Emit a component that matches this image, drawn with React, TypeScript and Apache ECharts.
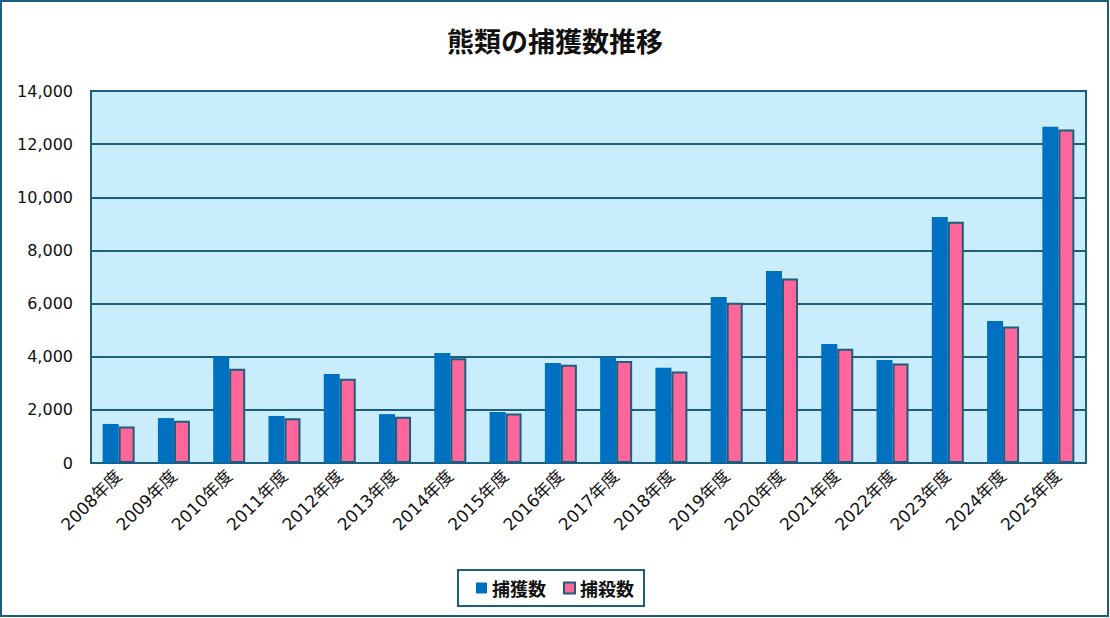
import React, { useEffect, useRef } from "react";
import * as echarts from "echarts";

const categories = ["2008年度","2009年度","2010年度","2011年度","2012年度","2013年度","2014年度","2015年度","2016年度","2017年度","2018年度","2019年度","2020年度","2021年度","2022年度","2023年度","2024年度","2025年度"];
const captured = [1470, 1690, 4000, 1770, 3350, 1840, 4140, 1920, 3760, 3980, 3580, 6250, 7230, 4480, 3880, 9260, 5340, 12650];
const killed = [1370, 1590, 3550, 1680, 3170, 1740, 3940, 1860, 3700, 3840, 3440, 6030, 6940, 4300, 3740, 9080, 5140, 12550];
const seriesNames = ["捕獲数", "捕殺数"];
const title = "熊類の捕獲数推移";

const FONT = "'DejaVu Sans', 'Noto Sans CJK JP', sans-serif";
const CJK = "'Noto Sans CJK JP', sans-serif";
const DARK = "#1B5E7E";

export default function App() {
  const ref = useRef<HTMLDivElement>(null);
  useEffect(() => {
    document.body.style.margin = "0";
    const chart = echarts.init(ref.current!, null, { renderer: "svg" });
    chart.setOption({
      animation: false,
      backgroundColor: "#ffffff",
      textStyle: { fontFamily: FONT },
      title: {
        text: title,
        left: "center",
        top: 22,
        textStyle: { fontFamily: CJK, fontSize: 27, fontWeight: "bold", color: "#111" },
      },
      graphic: [
        {
          type: "rect",
          shape: { x: 1, y: 1, width: 1107, height: 615 },
          style: { fill: "none", stroke: DARK, lineWidth: 2 },
          silent: true,
          z: 100,
        },
      ],
      legend: {
        bottom: 12,
        left: "center",
        data: seriesNames,
        icon: "rect",
        borderColor: DARK,
        borderWidth: 2,
        padding: [9, 10, 9, 18],
        itemWidth: 11,
        itemHeight: 11,
        itemGap: 17,
        textStyle: { fontFamily: CJK, fontSize: 18, fontWeight: "bold", color: "#111" },
      },
      grid: {
        left: 91,
        right: 24,
        top: 91,
        bottom: 155,
        show: true,
        backgroundColor: "#C9EDFB",
        borderColor: DARK,
        borderWidth: 2,
      },
      xAxis: {
        type: "category",
        data: categories,
        axisLine: { show: true, lineStyle: { color: DARK, width: 2 } },
        axisTick: { show: false },
        axisLabel: {
          rotate: 45,
          interval: 0,
          margin: 10,
          fontFamily: FONT,
          fontSize: 17,
          color: "#111",
        },
      },
      yAxis: {
        type: "value",
        min: 0,
        max: 14000,
        interval: 2000,
        axisLine: { show: false },
        axisTick: { show: false },
        splitLine: { lineStyle: { color: DARK, width: 2 } },
        axisLabel: {
          margin: 18,
          fontFamily: FONT,
          fontSize: 16,
          color: "#111",
          formatter: (v: number) => v.toLocaleString("en-US"),
        },
      },
      series: [
        {
          name: seriesNames[0],
          type: "bar",
          data: captured,
          barWidth: 16,
          barGap: "0%",
          itemStyle: { color: "#0070C0" },
        },
        {
          name: seriesNames[1],
          type: "bar",
          data: killed,
          barWidth: 16,
          itemStyle: { color: "#FF6699", borderColor: DARK, borderWidth: 2 },
        },
      ],
    });
    return () => chart.dispose();
  }, []);
  return <div ref={ref} style={{ width: 1110, height: 618, position: "fixed", left: 0, top: 0 }} />;
}
